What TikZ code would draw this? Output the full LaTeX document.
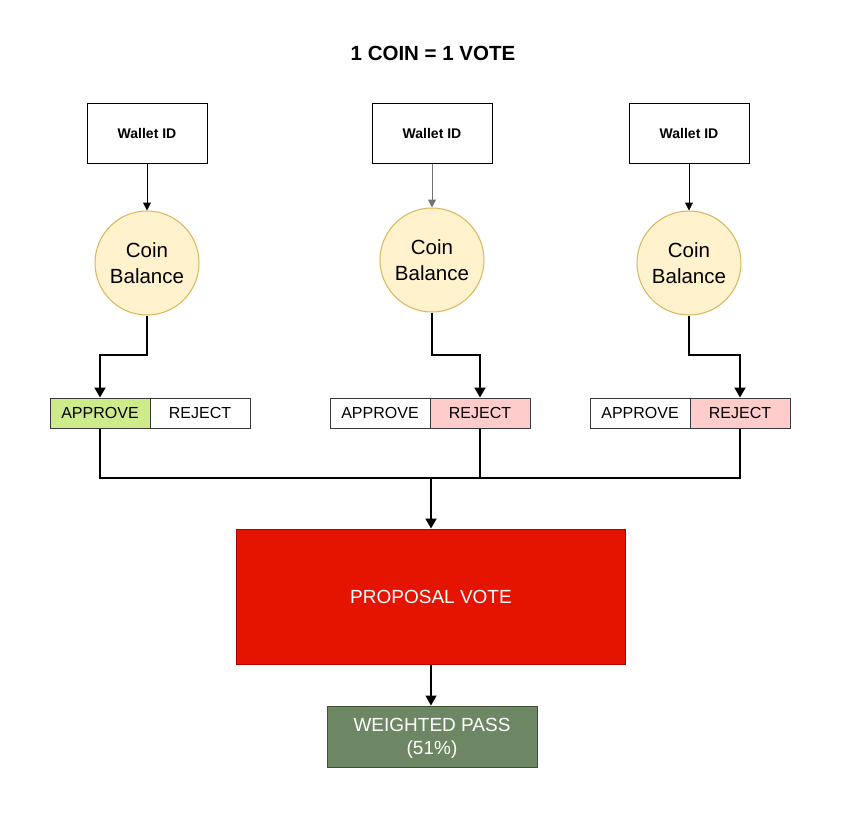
\documentclass[tikz,border=0pt]{standalone}
\usepackage{fontspec}
\setmainfont{Liberation Sans}
\usetikzlibrary{arrows.meta}
\definecolor{circfill}{HTML}{FFF2CC}
\definecolor{circdraw}{HTML}{D6B656}
\definecolor{appfill}{HTML}{CDEB8B}
\definecolor{rejfill}{HTML}{FFCCCC}
\definecolor{boxdraw}{HTML}{36393D}
\definecolor{propfill}{HTML}{E51400}
\definecolor{propdraw}{HTML}{B20000}
\definecolor{passfill}{HTML}{6D8764}
\definecolor{passdraw}{HTML}{3A5431}
\tikzset{
  wallet/.style={draw=black, line width=1pt, minimum width=120pt, minimum height=60pt, inner sep=0pt, font=\fontsize{14}{16}\selectfont\bfseries},
  coin/.style={circle, draw=circdraw, fill=circfill, line width=1pt, minimum size=104pt, inner sep=0pt, align=center, font=\fontsize{20.5}{26}\selectfont},
  vote/.style={draw=boxdraw, line width=1pt, minimum width=100pt, minimum height=30pt, inner sep=0pt, font=\fontsize{16}{18}\selectfont},
  thinarrow/.style={line width=1pt, -{Triangle[length=8pt,width=8pt]}},
  thickarrow/.style={line width=2pt, -{Triangle[length=10pt,width=11pt]}},
  thickline/.style={line width=2pt},
}
\begin{document}
\begin{tikzpicture}[x=1pt,y=-1pt]
\useasboundingbox[fill=white] (0,0) rectangle (862,827);
\node[font=\fontsize{20.5}{24}\selectfont\bfseries] (title) at (433,53) {1 COIN = 1 VOTE};

\node[wallet] (w1) at (147,133) {Wallet ID};
\node[wallet] (w2) at (432,133) {Wallet ID};
\node[wallet] (w3) at (689,133) {Wallet ID};

\node[coin] (c1) at (147,263) {Coin\\Balance};
\node[coin] (c2) at (432,260) {Coin\\Balance};
\node[coin] (c3) at (689,263) {Coin\\Balance};

\node[vote, fill=appfill] (a1) at (100,413) {APPROVE};
\node[vote, fill=white] (r1) at (200,413) {REJECT};
\node[vote, fill=white] (a2) at (380,413) {APPROVE};
\node[vote, fill=rejfill] (r2) at (480,413) {REJECT};
\node[vote, fill=white] (a3) at (640,413) {APPROVE};
\node[vote, fill=rejfill] (r3) at (740,413) {REJECT};

\node[draw=propdraw, fill=propfill, line width=1pt, minimum width=389pt, minimum height=135pt, inner sep=0pt, text=white, font=\fontsize{19}{22}\selectfont] (prop) at (431,596.5) {PROPOSAL VOTE};
\node[draw=passdraw, fill=passfill, line width=1pt, minimum width=210pt, minimum height=61pt, inner sep=0pt, text=white, align=center, text depth=0pt, font=\fontsize{19}{23}\selectfont] (pass) at (432,736.5) {WEIGHTED PASS\\(51\%)};

\draw[thinarrow] (w1) -- (c1);
\draw[thinarrow, draw=black!55] (w2) -- (c2);
\draw[thinarrow] (w3) -- (c3);

\coordinate (j) at (431,478);
\draw[thickarrow] (c1.south) |- (100,355) -- (a1.north);
\draw[thickarrow] (c2.south) |- (480,355) -- (r2.north);
\draw[thickarrow] (c3.south) |- (740,355) -- (r3.north);

\draw[thickline] (a1.south) |- (j);
\draw[thickline] (r2.south) |- (j);
\draw[thickline] (r3.south) |- (j);
\draw[thickarrow] (j) -- (prop.north);
\draw[thickarrow, line width=1.3pt] (prop.south) -- (pass.north -| prop.south);
\end{tikzpicture}
\end{document}
